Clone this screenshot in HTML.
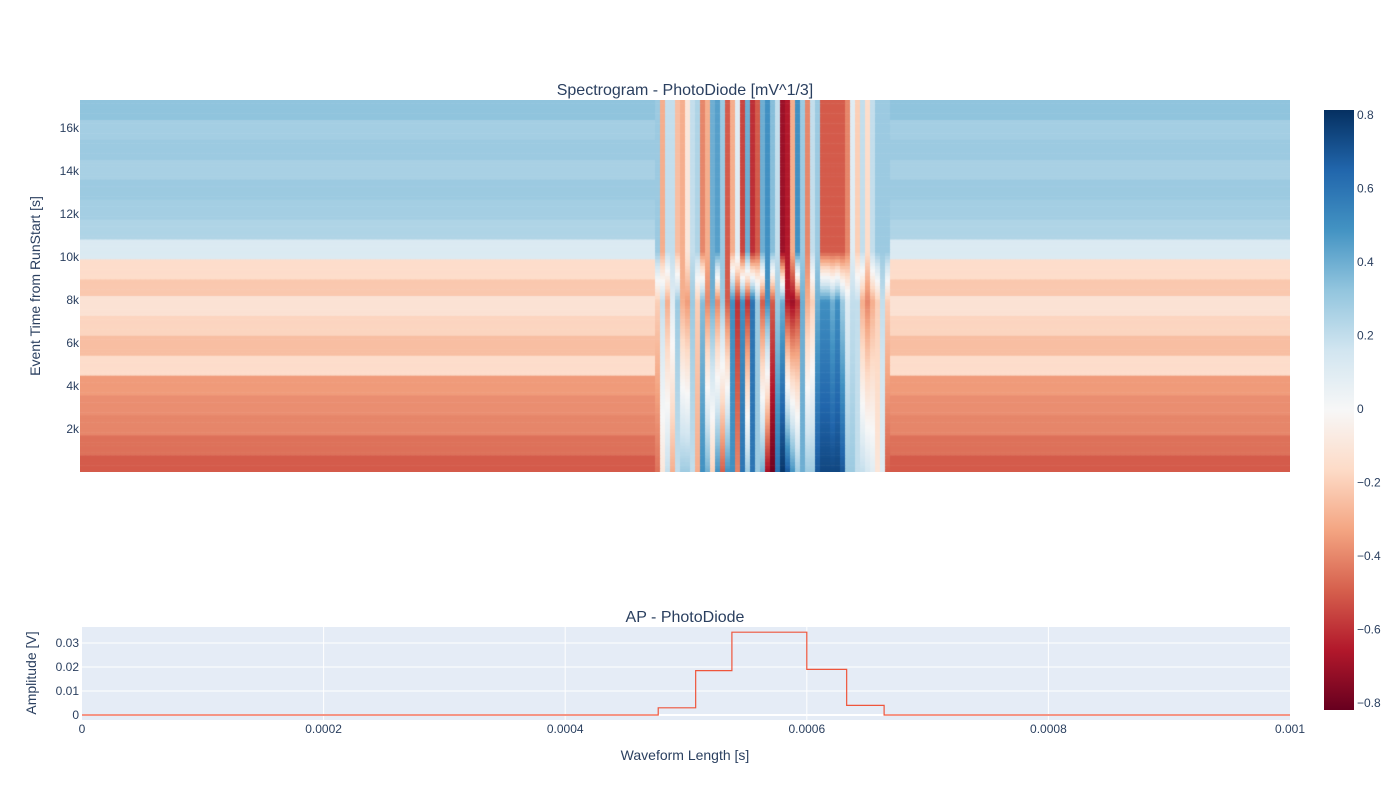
<!DOCTYPE html>
<html><head><meta charset="utf-8"><style>
body{margin:0;background:#fff;font-family:"Liberation Sans",sans-serif;}
#wrap{position:relative;width:1400px;height:800px;overflow:hidden;}
canvas{position:absolute;}
svg{position:absolute;left:0;top:0;}
text{font-family:"Liberation Sans",sans-serif;fill:#2a3f5f;}
</style></head><body>
<div id="wrap">
<canvas id="hm" width="1210" height="372" style="left:80px;top:100px"></canvas>
<svg id="s" width="1400" height="800"></svg>
</div>
<script>
// ---- data ----
const rowBg = [0.33,0.28,0.3,0.27,0.3,0.28,0.25,0.12,-0.15,-0.22,-0.12,-0.18,-0.25,-0.15,-0.35,-0.38,-0.4,-0.45,-0.5];
const centerTop = [0.3,-0.3,0.2,0.2,-0.25,-0.3,-0.1,0.2,0.25,-0.4,-0.3,0.4,0.45,0.3,-0.5,-0.3,0.1,-0.55,0.4,-0.6,-0.5,0.4,0.5,0.35,0.2,-0.7,-0.65,-0.3,0.5,0.3,-0.4,0.2,0.3,-0.5,-0.5,-0.5,-0.5,-0.5,-0.4,0.1,-0.2,0.2,-0.15,0.2,0.3,0.3,0.3];
const centerMid = [-0.2,0.2,-0.3,0.1,0.3,-0.3,-0.35,0.3,-0.2,0.35,-0.4,0.4,-0.4,0.3,-0.5,0.5,-0.6,0.5,-0.6,0.6,0.3,-0.5,0.5,-0.5,0.3,0.4,-0.65,-0.7,-0.6,0.4,-0.3,-0.2,0.4,0.5,0.5,0.4,0.5,0.3,0.1,0.2,0.2,-0.3,-0.4,-0.3,-0.2,0.2,-0.2];
const centerBottom = [-0.45,-0.1,0.2,-0.3,0.2,0.3,0.3,0.2,-0.3,0.5,0.4,-0.2,0.5,-0.5,0.5,0.5,-0.4,0.6,0.3,0.6,0.3,0.4,-0.7,-0.8,0.6,0.8,0.7,0.5,0.3,0.4,0.3,0.3,0.7,0.75,0.75,0.75,0.75,0.7,0.3,0.3,0.2,0.2,0.15,0.1,-0.1,0.1,-0.5];
const yTicks = [2000,4000,6000,8000,10000,12000,14000,16000];
const yTickLabels = ["2k","4k","6k","8k","10k","12k","14k","16k"];
const cbTicks = [0.8,0.6,0.4,0.2,0,-0.2,-0.4,-0.6,-0.8];
const stepX = [0,0.000477,0.000508,0.000538,0.000600,0.000633,0.000664,0.001];
const stepY = [0,0.003,0.0185,0.0345,0.019,0.004,0,0];
const apXTicks = [0,0.0002,0.0004,0.0006,0.0008,0.001];
const apXLabels = ["0","0.0002","0.0004","0.0006","0.0008","0.001"];
const apYTicks = [0,0.01,0.02,0.03];
const apYLabels = ["0","0.01","0.02","0.03"];
// ---- scales ----
const HM={x0:80,x1:1290,y0:100,y1:472,tmax:17300};
const hmY=v=>HM.y1-(v/HM.tmax)*(HM.y1-HM.y0);
const AP={x0:82,x1:1290,y0:627,y1:720};
const apX=v=>AP.x0+v/0.001*(AP.x1-AP.x0);
const apY=v=>715-v*2400;
const CB={x:1324,w:30,y0:110,y1:710,max:0.816};
const cbY=v=>409-v*367.5;
const stops=[[103,0,31],[178,24,43],[214,96,77],[244,165,130],[253,219,199],[247,247,247],[209,229,240],[146,197,222],[67,147,195],[33,102,172],[5,48,97]];
function col(v){let t=(v+CB.max)/(2*CB.max);t=Math.max(0,Math.min(1,t))*(stops.length-1);const i=Math.min(stops.length-2,Math.floor(t)),f=t-i;const a=stops[i],b=stops[i+1];return `rgb(${a.map((c,k)=>Math.round(c+(b[k]-c)*f)).join(',')})`;}
// ---- heatmap ----
const ctx=document.getElementById('hm').getContext('2d');
const cw=5,rh=372/112;
const cStart=655-HM.x0;
for(let r=0;r<112;r++){
  const yy=r*rh, yAbs=yy+HM.y0;
  const bg=rowBg[Math.min(rowBg.length-1,Math.floor(yy/(372/rowBg.length)))];
  for(let c=0;c<242;c++){
    const x=c*cw;let v=bg;
    const ci=Math.floor((x-cStart)/cw);
    if(ci>=0&&ci<centerTop.length){
      if(yAbs<250)v=centerTop[ci];
      else if(yAbs<300){const f=(yAbs-250)/50;v=centerTop[ci]*(1-f)+centerMid[ci]*f;}
      else{const f=(yAbs-300)/172;v=centerMid[ci]*(1-f)+centerBottom[ci]*f;}
    }
    ctx.fillStyle=col(v);ctx.fillRect(x,yy,cw+0.5,rh+0.5);
  }
}
// ---- svg ----
const S=document.getElementById('s');const NS='http://www.w3.org/2000/svg';
function mk(tag,attrs,txt){const e=document.createElementNS(NS,tag);for(const k in attrs)e.setAttribute(k,attrs[k]);if(txt!==undefined)e.textContent=txt;S.appendChild(e);return e;}
let e;
e=mk('text',{x:685,y:95,'text-anchor':'middle','font-size':16},'Spectrogram - PhotoDiode [mV^1/3]');


e=mk('text',{x:40,y:286,'text-anchor':'middle','font-size':14,transform:'rotate(-90 40 286)'},'Event Time from RunStart [s]');


yTicks.forEach((t,i)=>{e=mk('text',{x:79,y:hmY(t)+4,'text-anchor':'end','font-size':12},yTickLabels[i]);

});
// colorbar
const defs=mk('defs',{});const g=document.createElementNS(NS,'linearGradient');g.setAttribute('id','cbg');g.setAttribute('x1','0');g.setAttribute('y1','1');g.setAttribute('x2','0');g.setAttribute('y2','0');defs.appendChild(g);
stops.forEach((s,i)=>{const st=document.createElementNS(NS,'stop');st.setAttribute('offset',i/(stops.length-1));st.setAttribute('stop-color',`rgb(${s.join(',')})`);g.appendChild(st);});
e=mk('rect',{x:CB.x,y:CB.y0,width:CB.w,height:CB.y1-CB.y0,fill:'url(#cbg)'});


cbTicks.forEach(t=>{e=mk('text',{x:1357,y:cbY(t)+4,'font-size':12},t===0?'0':(t<0?'\u2212'+Math.abs(t).toFixed(1):t.toFixed(1)));

});
// AP plot
e=mk('rect',{x:AP.x0,y:AP.y0,width:AP.x1-AP.x0,height:AP.y1-AP.y0,fill:'#e5ecf6'});


apXTicks.forEach((t,i)=>{if(i>0&&i<apXTicks.length-1){e=mk('line',{x1:apX(t),x2:apX(t),y1:AP.y0,y2:AP.y1,stroke:'#fff','stroke-width':1});

}
e=mk('text',{x:apX(t),y:733,'text-anchor':'middle','font-size':12},apXLabels[i]);

});
apYTicks.forEach((t,i)=>{e=mk('line',{x1:AP.x0,x2:AP.x1,y1:apY(t),y2:apY(t),stroke:'#fff','stroke-width':t===0?2:1});


e=mk('text',{x:79,y:apY(t)+4,'text-anchor':'end','font-size':12},apYLabels[i]);

});
let d='';for(let i=0;i<stepX.length-1;i++){d+=(i?'L':'M')+apX(stepX[i])+' '+apY(stepY[i])+' L'+apX(stepX[i+1])+' '+apY(stepY[i]);}
e=mk('path',{d:d,fill:'none',stroke:'#ef553b','stroke-width':1.2});


e=mk('text',{x:685,y:622,'text-anchor':'middle','font-size':16},'AP - PhotoDiode');


e=mk('text',{x:685,y:760,'text-anchor':'middle','font-size':14},'Waveform Length [s]');


e=mk('text',{x:36,y:673,'text-anchor':'middle','font-size':14,transform:'rotate(-90 36 673)'},'Amplitude [V]');


</script>
</body></html>
